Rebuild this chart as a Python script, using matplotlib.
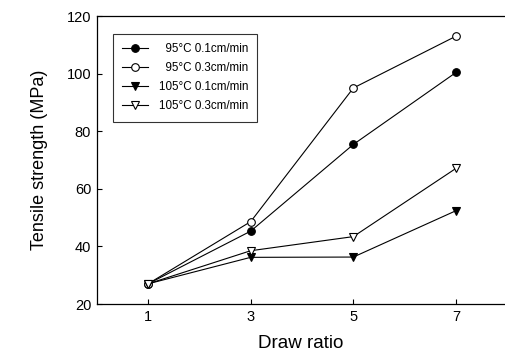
import matplotlib.pyplot as plt

plt.rcParams['font.family'] = ['Liberation Sans', 'DejaVu Sans']

# rapport d'étirage et résistance à la traction (MPa)
draw_ratio = [1, 3, 5, 7]
t95_v01 = [27, 45.3, 75.4, 100.4]
t95_v03 = [27, 48.6, 95.0, 113.0]
t105_v01 = [27, 36.2, 36.3, 52.4]
t105_v03 = [27, 38.5, 43.4, 67.1]

fig = plt.figure(figsize=(5.05, 3.52), dpi=100)
ax = fig.add_axes([96.7 / 505, 1 - 304 / 352, 1 - 96.7 / 505, (304 - 16) / 352])

style = dict(color='black', lw=0.8, ms=5.5, mew=0.8, mec='black')
# espace chiffre devant "95" pour aligner les libellés à droite
ax.plot(draw_ratio, t95_v01, marker='o', mfc='black', label='\u200795°C 0.1cm/min', **style)
ax.plot(draw_ratio, t95_v03, marker='o', mfc='white', label='\u200795°C 0.3cm/min', **style)
ax.plot(draw_ratio, t105_v01, marker='v', mfc='black', label='105°C 0.1cm/min', **style)
ax.plot(draw_ratio, t105_v03, marker='v', mfc='white', label='105°C 0.3cm/min', **style)

ax.set_xlim(0, (505 - 96.7) / 51.33)
ax.set_ylim(20, 120)
ax.set_xticks(draw_ratio)
ax.set_yticks([20, 40, 60, 80, 100, 120])
ax.tick_params(direction='in', length=3.5, width=0.8, labelsize=10.5, pad=4)
ax.spines['right'].set_visible(False)
for s in ['left', 'top', 'bottom']:
    ax.spines[s].set_linewidth(0.9)

ax.set_xlabel('Draw ratio', fontsize=13.5, labelpad=8)
ax.set_ylabel('Tensile strength (MPa)', fontsize=13, labelpad=13)

leg = ax.legend(loc='upper left', bbox_to_anchor=(0.04, 0.9375), borderaxespad=0,
                fontsize=8.4, frameon=True, fancybox=False, edgecolor='black',
                handlelength=2.2, handletextpad=0.9, labelspacing=0.6, borderpad=0.8)
leg.get_frame().set_linewidth(0.8)

fig.savefig('out.png', dpi=100)
